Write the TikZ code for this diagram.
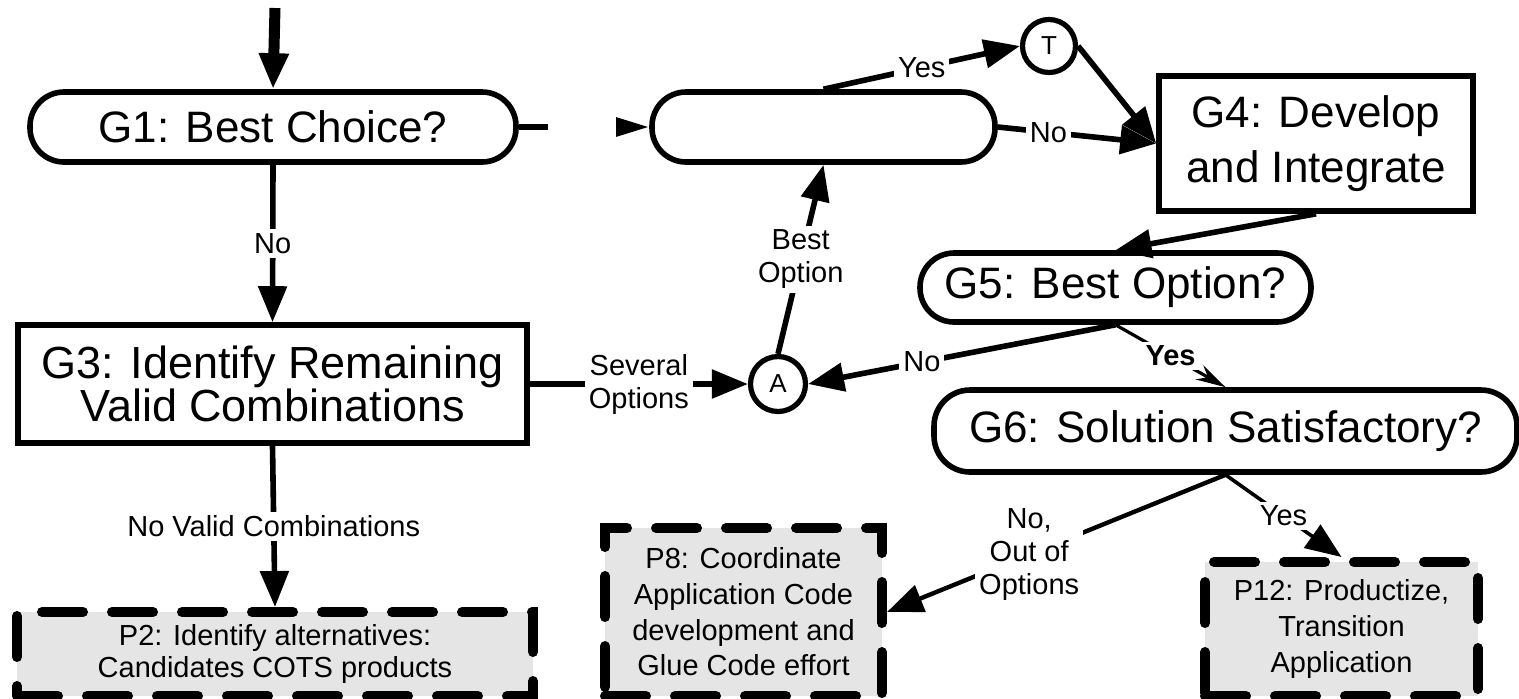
\documentclass[tikz,border=0pt]{standalone}
\usepackage{fontspec}
\setmainfont{Liberation Sans}
\usetikzlibrary{arrows.meta}

\begin{document}
\begin{tikzpicture}[x=0.5pt, y=-0.5pt,
  goal/.style={draw, line width=2.8pt, rounded corners=17pt, inner sep=0pt, font=\fontsize{22}{27}\selectfont},
  task/.style={draw, line width=2.8pt, inner sep=0pt, align=center},
  conn/.style={draw, circle, line width=2.6pt, minimum size=26.5pt, inner sep=0pt, font=\fontsize{13}{13}\selectfont},
  proc/.style={draw, fill=black!10, line width=5pt, line cap=round, dash pattern=on 20.5pt off 14.5pt,
    align=center, font=\fontsize{14.5}{17.8}\selectfont},
  arr/.style={line width=2.8pt, -{Triangle[length=18pt, width=14pt]}},
  lbl/.style={fill=white, inner sep=2pt, align=center, font=\fontsize{14.5}{16.5}\selectfont},
]
\useasboundingbox (0,0) rectangle (1519,698);

\node (g1) [goal, minimum width=243pt, minimum height=35pt] at (273,127) {G1: Best Choice?};
\node (g2) [goal, minimum width=171.5pt, minimum height=35pt] at (823.5,127) {};
\node (t) [conn] at (1049,46) {T};
\node (g4) [task, minimum width=157pt, minimum height=67.5pt, font=\fontsize{22}{27.5}\selectfont] at (1316,143.5) {G4: Develop\\and Integrate};
\node (g3) [task, minimum width=254.5pt, minimum height=59pt, font=\fontsize{22.5}{21.5}\selectfont] at (272.5,384) {G3: Identify Remaining\\Valid Combinations};
\node (g5) [goal, minimum width=195.5pt, minimum height=34.5pt] at (1115.5,287.5) {G5: Best Option?};
\node (a) [conn, minimum size=27.5pt] at (778,384) {A};
\node (g6) [goal, minimum width=291.5pt, minimum height=41pt, rounded corners=18pt] at (1225.5,431) {G6: Solution Satisfactory?};

\node (p2) [proc, minimum width=258pt, minimum height=42pt, font=\fontsize{14.5}{16}\selectfont] at (275,654) {P2: Identify alternatives:\\Candidates COTS products};
\node (p8) [proc, minimum width=138.5pt, minimum height=84pt] at (743.5,612) {P8: Coordinate\\Application Code\\development and\\Glue Code effort};
\node (p12) [proc, minimum width=136.5pt, minimum height=67pt] at (1341.5,629) {P12: Productize,\\Transition\\Application};

\coordinate (start) at (275,8);
\coordinate (g1out) at (548,127);
\coordinate (g2in) at (616,127);

\draw[arr, line width=5.5pt] (start) -- (g1.north);
\draw[line width=2.8pt] (g1.east) -- (g1out);
\draw[arr, -{Triangle[length=16.5pt, width=9pt]}] (g2in) -- (g2.west);
\draw[arr] (g2.north) -- node[lbl] {Yes} (t.west);
\draw[arr] (t.east) -- (g4.west);
\draw[arr] (g2.east) -- node[lbl, pos=.32] {No} (g4.west);
\draw[arr] (g4.south) -- (g5.north);
\draw[arr] (g5.south) -- node[lbl, pos=.63] {No} (a.east);
\draw[line width=1.6pt, -{Stealth[length=15pt, width=8pt, inset=5pt]}]
  (g5.south) -- node[lbl, font=\fontsize{14.5}{16.5}\selectfont\bfseries] {Yes} (g6.north);
\draw[arr] (a.north) -- node[lbl] {Best\\Option} (g2.south);
\draw[arr] (g1.south) -- node[lbl] {No} (g3.north);
\draw[arr] (g3.east) -- node[lbl] {Several\\Options} (a.west);
\draw[arr] (g3.south) -- node[lbl] {No Valid Combinations} (p2.north);
\draw[arr, line width=2.2pt] (g6.south) -- node[lbl, pos=.58] {No,\\Out of\\Options} (p8.east);
\draw[arr, line width=1.8pt] (g6.south) -- node[lbl] {Yes} (p12.north);
\end{tikzpicture}
\end{document}
